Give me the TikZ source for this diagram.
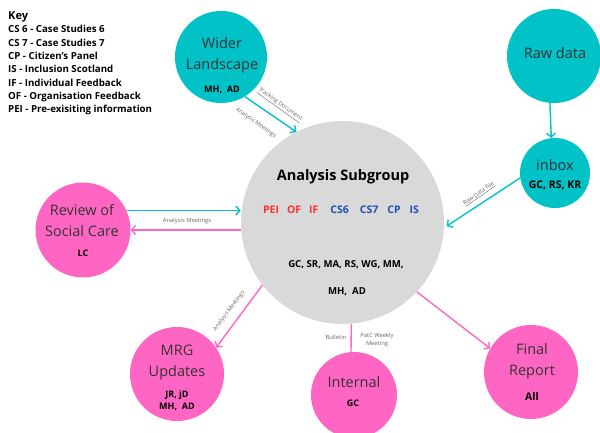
\documentclass[tikz,border=0pt]{standalone}
\usepackage{fontspec}
\setmainfont{Open Sans}
\usetikzlibrary{arrows.meta}
\definecolor{cy}{HTML}{00C2C7}
\definecolor{pk}{HTML}{FF66C4}
\definecolor{gr}{HTML}{D9D9D9}
\definecolor{rd}{HTML}{FF3131}
\definecolor{bl}{HTML}{1F4FB5}
\definecolor{tx}{HTML}{333333}
\definecolor{lb}{HTML}{666666}
\begin{document}
\begin{tikzpicture}[x=1pt,y=-1pt,
  bub/.style={circle,inner sep=0pt,minimum size=#1},
  ttl/.style={font=\fontsize{14.5}{21}\selectfont,text=tx,align=center,inner sep=0pt},
  who/.style={font=\bfseries\fontsize{9}{12}\selectfont,text=black,align=center,inner sep=0pt},
  lbl/.style={font=\fontsize{5.8}{8}\selectfont,text=lb,align=center,inner sep=0pt},
  arr/.style={line width=1.4pt,-{Straight Barb[length=4pt,width=9pt]}},
  ln/.style={line width=1.4pt}]
\useasboundingbox (0,0) rectangle (600,432);
\fill[white] (0,0) rectangle (600,432);

% key
\node[anchor=north west,align=left,inner sep=0pt,
  font=\bfseries\fontsize{9.7}{13.3}\selectfont] (key) at (8,11)
  {{\fontsize{11}{13}\selectfont Key}\\[0.5pt]
   CS 6 - Case Studies 6\\
   CS 7 - Case Studies 7\\
   CP - Citizen's Panel\\
   IS - Inclusion Scotland\\
   IF - Individual Feedback\\
   OF - Organisation Feedback\\
   PEI - Pre-exisiting information};

% circles
\node[bub=203pt,fill=gr] (sub) at (342.5,222.5) {};
\node[bub=92pt,fill=cy] (wider) at (221,57) {};
\node[bub=94pt,fill=cy] (raw) at (554,56) {};
\node[bub=70pt,fill=cy] (inbox) at (555,173) {};
\node[bub=95pt,fill=pk] (review) at (83,230) {};
\node[bub=94pt,fill=pk] (mrg) at (177,374) {};
\node[bub=86pt,fill=pk] (internal) at (354,395) {};
\node[bub=94pt,fill=pk] (final) at (531,372) {};

% texts
\node[ttl] (widerT) at (222,55) {Wider\\Landscape};
\node[who] (widerW) at (222,90) {MH,\ \ AD};
\node[ttl] (rawT) at (555,53) {Raw data};
\node[ttl] (inboxT) at (555,165) {inbox};
\node[who,font=\bfseries\fontsize{10.5}{12}\selectfont] (inboxW) at (555,185) {GC, RS, KR};
\node[ttl] (reviewT) at (82,221) {Review of\\Social Care};
\node[who] (reviewW) at (83,253) {LC};
\node[ttl] (mrgT) at (177,362) {MRG\\Updates};
\node[who] (mrgW) at (177,401) {JR, jD\\MH,\ \ AD};
\node[ttl] (internalT) at (354,382) {Internal};
\node[who] (internalW) at (353,403) {GC};
\node[ttl] (finalT) at (532,361) {Final\\Report};
\node[who,font=\bfseries\fontsize{10.5}{12}\selectfont] (finalW) at (532,397) {All};

\node[font=\bfseries\fontsize{14.5}{18}\selectfont,text=black,inner sep=0pt] (subT) at (343,177) {Analysis Subgroup};
\node[font=\bfseries\fontsize{10.5}{12}\selectfont,inner sep=0pt] (subC) at (341,210)
  {{\color{rd}PEI\hspace{8pt}OF\hspace{8pt}IF}\hspace{12pt}{\color{bl}CS6\hspace{11pt}CS7\hspace{9pt}CP\hspace{9pt}IS}};
\node[who,font=\bfseries\fontsize{9.6}{12}\selectfont] (subW1) at (346,265) {GC, SR, MA, RS, WG, MM,};
\node[who,font=\bfseries\fontsize{9.6}{12}\selectfont] (subW2) at (347,292) {MH,\ \ AD};

% connectors
\draw[arr,cy] (wider.-59) -- (sub.117);
\draw[arr,cy] (raw.-95) -- (inbox.96);
\draw[arr,cy,shorten >=3pt] (inbox.188) -- (sub.-3);
\draw[arr,cy] (review.24) -- (review.24 -| sub.west);
\draw[arr,pk] (sub.west |- review.east) -- (review.east);
\draw[arr,pk] (sub.218) -- (mrg.34);
\draw[ln,pk] (sub.-85) -- (internal.94);
\draw[arr,pk] (sub.-43) -- (final.150);

% connector labels
\node[lbl,rotate=-35.6] (lTrack) at (280,105) {\underline{Tracking Document}};
\node[lbl,rotate=-35.6] (lWiderAM) at (256,123) {Analysis Meetings};
\node[lbl,rotate=35] (lRaw) at (479,194) {\underline{Raw Data File}};
\node[lbl] (lReview) at (187,221) {Analysis Meetings};
\node[lbl,rotate=52.7] (lMrg) at (229,311) {Analysis Meetings};
\node[lbl] (lBull) at (336,337) {Bulletin};
\node[lbl] (lPatc) at (377,340) {PatC Weekly\\Meeting};
\end{tikzpicture}
\end{document}
